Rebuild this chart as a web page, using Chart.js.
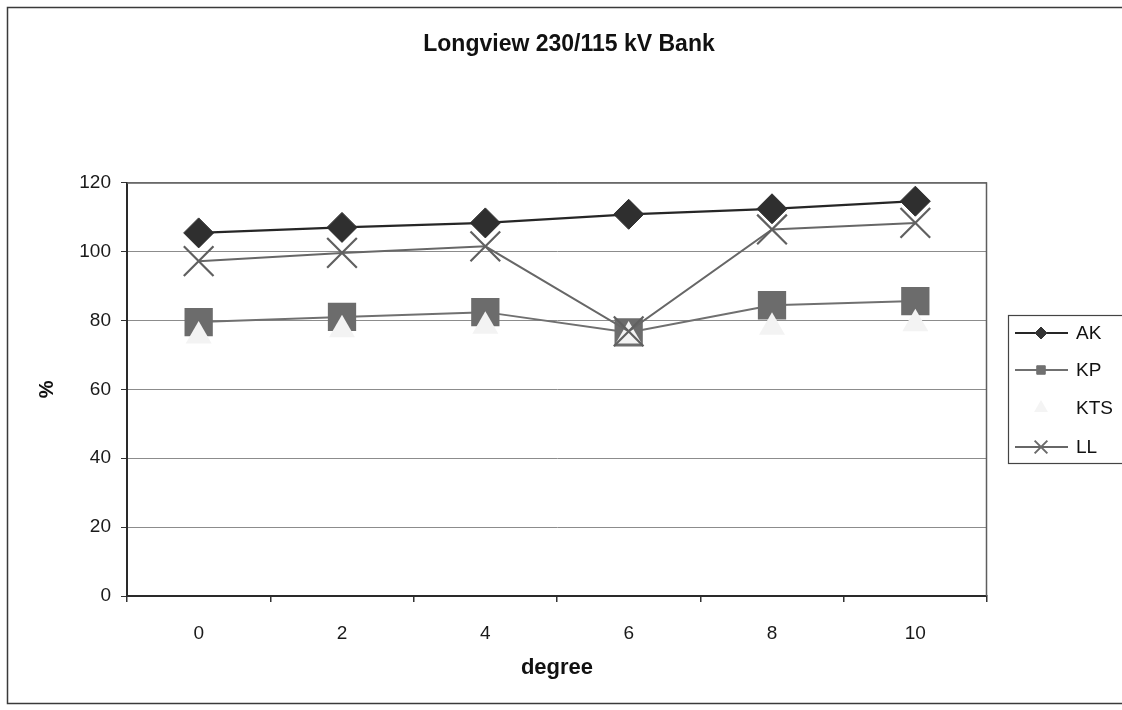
<!DOCTYPE html>
<html>
<head>
<meta charset="utf-8">
<title>Longview 230/115 kV Bank</title>
<script src="https://cdn.jsdelivr.net/npm/chart.js@4.4.0/dist/chart.umd.min.js"></script>
<style>
  html, body { margin: 0; padding: 0; background: #ffffff; }
  #wrap { width: 1122px; height: 710px; position: relative; overflow: hidden; }
</style>
</head>
<body>
<div id="wrap"><canvas id="c" width="1122" height="710"></canvas></div>
<script>
// Loading (%) of the bank for each outage case, by degree
const degrees   = ['0', '2', '4', '6', '8', '10'];
const akValues  = [105.4, 107.0, 108.3, 110.8, 112.4, 114.6];
const kpValues  = [79.5, 81.0, 82.4, 76.5, 84.4, 85.6];
const ktsValues = [75.5, 77.3, 78.3, 75.5, 78.0, 79.0];
const llValues  = [97.2, 99.6, 101.5, 76.8, 106.4, 108.3];
const yTicks    = [0, 20, 40, 60, 80, 100, 120];

const FONT = '"Liberation Sans", Arial, Helvetica, sans-serif';

// Outer frame, plot-area frame and a boxed legend with line + marker samples
const framePlugin = {
  id: 'frame',
  beforeDraw(chart) {
    const ctx = chart.ctx;
    ctx.save();
    ctx.fillStyle = '#ffffff';
    ctx.fillRect(0, 0, chart.width, chart.height);
    ctx.strokeStyle = '#3a3a3a';
    ctx.lineWidth = 1.5;
    // frame runs off the right edge of the canvas
    ctx.strokeRect(7.5, 7.5, 1120, 696);
    ctx.restore();
  },
  afterDraw(chart) {
    const ctx = chart.ctx;
    const a = chart.chartArea;
    ctx.save();
    // plot area top and right edges
    ctx.strokeStyle = '#5e5e5e';
    ctx.lineWidth = 1.5;
    ctx.beginPath();
    ctx.moveTo(a.left, a.top + 0.5);
    ctx.lineTo(a.right - 0.5, a.top + 0.5);
    ctx.lineTo(a.right - 0.5, a.bottom);
    ctx.stroke();

    // legend
    const box = { x: 1008.5, y: 315.5, w: 120, h: 148 };
    ctx.strokeStyle = '#444444';
    ctx.lineWidth = 1.2;
    ctx.strokeRect(box.x, box.y, box.w, box.h);
    const rowY = [333, 370, 408, 447];
    const legendMarks = [
      { style: 'rectRot',  r: 6,  fill: '#333333', stroke: '#333333', bw: 1 },
      { style: 'rect',     r: 6,  fill: '#707070', stroke: '#707070', bw: 1 },
      { style: 'triangle', r: 8,  fill: '#f4f4f4', stroke: '#f4f4f4', bw: 0 },
      { style: 'crossRot', r: 9,  fill: '#6a6a6a', stroke: '#6a6a6a', bw: 2 }
    ];
    chart.data.datasets.forEach((ds, i) => {
      const y = rowY[i];
      if (ds.showLine !== false) {
        ctx.strokeStyle = ds.borderColor;
        ctx.lineWidth = 2;
        ctx.beginPath();
        ctx.moveTo(1015, y);
        ctx.lineTo(1068, y);
        ctx.stroke();
      }
      const m = legendMarks[i];
      ctx.fillStyle = m.fill;
      ctx.strokeStyle = m.stroke;
      ctx.lineWidth = m.bw;
      Chart.helpers.drawPoint(ctx, { pointStyle: m.style, radius: m.r, borderWidth: m.bw, rotation: 0 }, 1041, y);
      ctx.fillStyle = '#111111';
      ctx.font = '19px ' + FONT;
      ctx.textAlign = 'left';
      ctx.textBaseline = 'middle';
      ctx.fillText(ds.label, 1076, y + 1);
    });
    ctx.restore();
  }
};

new Chart(document.getElementById('c'), {
  type: 'line',
  data: {
    labels: degrees,
    datasets: [
      {
        label: 'AK', data: akValues, order: 3,
        borderColor: '#262626', borderWidth: 2.2,
        pointStyle: 'rectRot', pointRadius: 15, pointHoverRadius: 15,
        pointBackgroundColor: '#2f2f2f', pointBorderColor: '#2f2f2f', pointBorderWidth: 1
      },
      {
        label: 'KP', data: kpValues, order: 2,
        borderColor: '#707070', borderWidth: 2,
        pointStyle: 'rect', pointRadius: 20, pointHoverRadius: 20,
        pointBackgroundColor: '#6c6c6c', pointBorderColor: '#6c6c6c', pointBorderWidth: 0
      },
      {
        label: 'KTS', data: ktsValues, order: 1, showLine: false,
        borderColor: '#f4f4f4', borderWidth: 0,
        pointStyle: 'triangle', pointRadius: 15, pointHoverRadius: 15,
        pointBackgroundColor: '#f3f3f3', pointBorderColor: '#f3f3f3', pointBorderWidth: 0
      },
      {
        label: 'LL', data: llValues, order: 0,
        borderColor: '#676767', borderWidth: 2,
        pointStyle: 'crossRot', pointRadius: 21, pointHoverRadius: 21,
        pointBackgroundColor: '#606060', pointBorderColor: '#606060', pointBorderWidth: 2.2
      }
    ]
  },
  options: {
    responsive: false,
    animation: false,
    devicePixelRatio: 1,
    layout: { padding: { top: 0, left: 26, right: 10, bottom: 8 } },
    plugins: {
      legend: { display: false },
      tooltip: { enabled: false },
      title: {
        display: true,
        text: 'Longview 230/115 kV Bank',
        color: '#111111',
        font: { family: FONT, size: 23, weight: 'bold' },
        padding: { top: 31, bottom: 124 }
      }
    },
    scales: {
      x: {
        type: 'category',
        offset: true,
        grid: { display: true, drawOnChartArea: false, drawTicks: true, tickLength: 6, offset: true, color: '#333333', tickColor: '#333333', lineWidth: 1.5 },
        border: { display: true, color: '#2a2a2a', width: 2 },
        ticks: { color: '#1a1a1a', font: { family: FONT, size: 19 }, padding: 20, maxRotation: 0 },
        title: { display: true, text: 'degree', color: '#111111', font: { family: FONT, size: 22, weight: 'bold' }, padding: { top: 0, bottom: 21 } },
        afterFit(scale) { scale.height = 106; }
      },
      y: {
        type: 'linear',
        min: 0, max: 120,
        afterBuildTicks(scale) { scale.ticks = yTicks.map(v => ({ value: v })); },
        grid: { color: '#8c8c8c', lineWidth: 1, drawTicks: true, tickLength: 6, tickColor: '#333333' },
        border: { display: true, color: '#2a2a2a', width: 2 },
        ticks: { color: '#1a1a1a', font: { family: FONT, size: 19 }, padding: 10 },
        title: { display: true, text: '%', color: '#111111', font: { family: FONT, size: 20, weight: 'bold' }, padding: { top: 9, bottom: 0 } },
        afterFit(scale) { scale.width = 101; }
      },
      legendSpace: {
        type: 'linear', position: 'right', min: 0, max: 1,
        grid: { display: false, drawTicks: false },
        border: { display: false },
        ticks: { display: false },
        afterFit(scale) { scale.width = 125; }
      }
    }
  },
  plugins: [framePlugin]
});
</script>
</body>
</html>
